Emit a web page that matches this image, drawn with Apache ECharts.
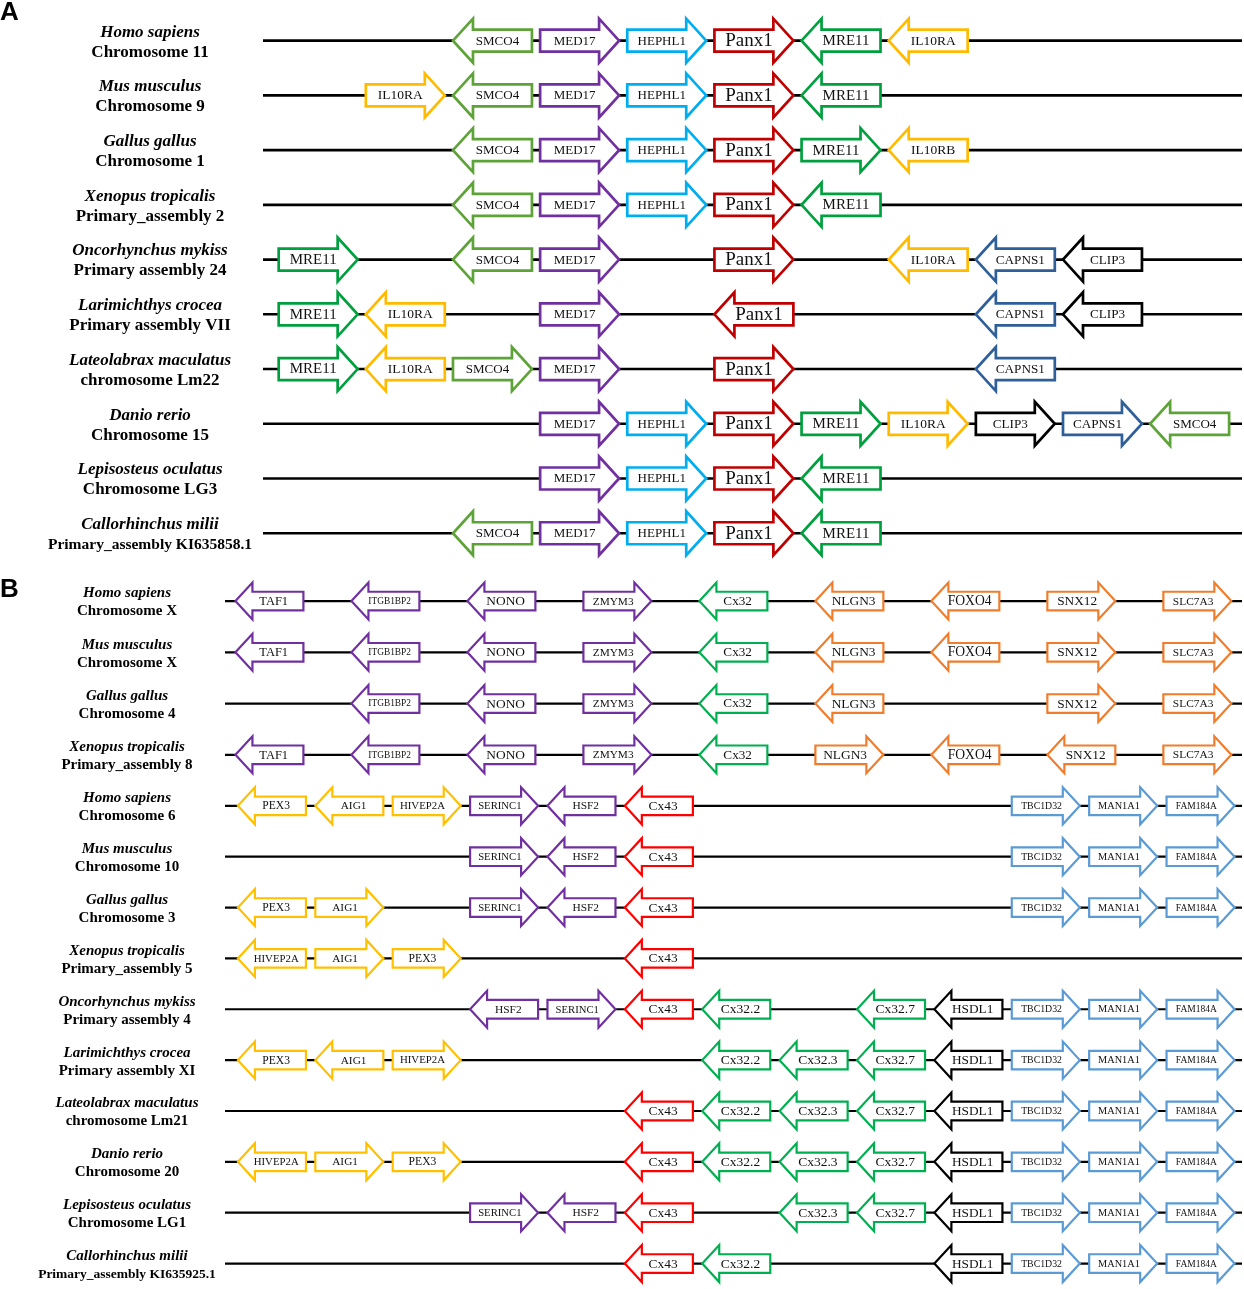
<!DOCTYPE html>
<html>
<head>
<meta charset="utf-8">
<script src="https://cdn.jsdelivr.net/npm/echarts@6/dist/echarts.min.js"></script>
<style>
  html, body { margin: 0; padding: 0; background: #fff; }
  #chart { width: 1244px; height: 1289px; }
</style>
</head>
<body>
<div id="chart"></div>
<script>
// ---- panel A : Panx1 neighbourhood ----
var speciesA = ['Homo sapiens', 'Mus musculus', 'Gallus gallus', 'Xenopus tropicalis', 'Oncorhynchus mykiss',
  'Larimichthys crocea', 'Lateolabrax maculatus', 'Danio rerio', 'Lepisosteus oculatus', 'Callorhinchus milii'];
var chromA = ['Chromosome 11', 'Chromosome 9', 'Chromosome 1', 'Primary_assembly 2', 'Primary assembly 24',
  'Primary assembly VII', 'chromosome Lm22', 'Chromosome 15', 'Chromosome LG3', 'Primary_assembly KI635858.1'];
// [row, slot, gene, strand]
var genesA = [
  [0, 2, 'SMCO4', -1], [0, 3, 'MED17', 1], [0, 4, 'HEPHL1', 1], [0, 5, 'Panx1', 1], [0, 6, 'MRE11', -1], [0, 7, 'IL10RA', -1],
  [1, 1, 'IL10RA', 1], [1, 2, 'SMCO4', -1], [1, 3, 'MED17', 1], [1, 4, 'HEPHL1', 1], [1, 5, 'Panx1', 1], [1, 6, 'MRE11', -1],
  [2, 2, 'SMCO4', -1], [2, 3, 'MED17', 1], [2, 4, 'HEPHL1', 1], [2, 5, 'Panx1', 1], [2, 6, 'MRE11', 1], [2, 7, 'IL10RB', -1],
  [3, 2, 'SMCO4', -1], [3, 3, 'MED17', 1], [3, 4, 'HEPHL1', 1], [3, 5, 'Panx1', 1], [3, 6, 'MRE11', -1],
  [4, 0, 'MRE11', 1], [4, 2, 'SMCO4', -1], [4, 3, 'MED17', 1], [4, 5, 'Panx1', 1], [4, 7, 'IL10RA', -1], [4, 8, 'CAPNS1', -1], [4, 9, 'CLIP3', -1],
  [5, 0, 'MRE11', 1], [5, 1, 'IL10RA', -1], [5, 3, 'MED17', 1], [5, 5, 'Panx1', -1], [5, 8, 'CAPNS1', -1], [5, 9, 'CLIP3', -1],
  [6, 0, 'MRE11', 1], [6, 1, 'IL10RA', -1], [6, 2, 'SMCO4', 1], [6, 3, 'MED17', 1], [6, 5, 'Panx1', 1], [6, 8, 'CAPNS1', -1],
  [7, 3, 'MED17', 1], [7, 4, 'HEPHL1', 1], [7, 5, 'Panx1', 1], [7, 6, 'MRE11', 1], [7, 7, 'IL10RA', 1], [7, 8, 'CLIP3', 1], [7, 9, 'CAPNS1', 1], [7, 10, 'SMCO4', -1],
  [8, 3, 'MED17', 1], [8, 4, 'HEPHL1', 1], [8, 5, 'Panx1', 1], [8, 6, 'MRE11', -1],
  [9, 2, 'SMCO4', -1], [9, 3, 'MED17', 1], [9, 4, 'HEPHL1', 1], [9, 5, 'Panx1', 1], [9, 6, 'MRE11', -1]
];

// ---- panel B, upper block : Cx32 neighbourhood ----
var speciesB1 = ['Homo sapiens', 'Mus musculus', 'Gallus gallus', 'Xenopus tropicalis'];
var chromB1 = ['Chromosome X', 'Chromosome X', 'Chromosome 4', 'Primary_assembly 8'];
var genesB1 = [
  [0, 0, 'TAF1', -1], [0, 1, 'ITGB1BP2', -1], [0, 2, 'NONO', -1], [0, 3, 'ZMYM3', 1], [0, 4, 'Cx32', -1], [0, 5, 'NLGN3', -1], [0, 6, 'FOXO4', -1], [0, 7, 'SNX12', 1], [0, 8, 'SLC7A3', 1],
  [1, 0, 'TAF1', -1], [1, 1, 'ITGB1BP2', -1], [1, 2, 'NONO', -1], [1, 3, 'ZMYM3', 1], [1, 4, 'Cx32', -1], [1, 5, 'NLGN3', -1], [1, 6, 'FOXO4', -1], [1, 7, 'SNX12', 1], [1, 8, 'SLC7A3', 1],
  [2, 1, 'ITGB1BP2', -1], [2, 2, 'NONO', -1], [2, 3, 'ZMYM3', 1], [2, 4, 'Cx32', -1], [2, 5, 'NLGN3', -1], [2, 7, 'SNX12', 1], [2, 8, 'SLC7A3', 1],
  [3, 0, 'TAF1', -1], [3, 1, 'ITGB1BP2', -1], [3, 2, 'NONO', -1], [3, 3, 'ZMYM3', 1], [3, 4, 'Cx32', -1], [3, 5, 'NLGN3', 1], [3, 6, 'FOXO4', -1], [3, 7, 'SNX12', -1], [3, 8, 'SLC7A3', 1]
];

// ---- panel B, lower block : Cx43 neighbourhood ----
var speciesB2 = ['Homo sapiens', 'Mus musculus', 'Gallus gallus', 'Xenopus tropicalis', 'Oncorhynchus mykiss',
  'Larimichthys crocea', 'Lateolabrax maculatus', 'Danio rerio', 'Lepisosteus oculatus', 'Callorhinchus milii'];
var chromB2 = ['Chromosome 6', 'Chromosome 10', 'Chromosome 3', 'Primary_assembly 5', 'Primary assembly 4',
  'Primary assembly XI', 'chromosome Lm21', 'Chromosome 20', 'Chromosome LG1', 'Primary_assembly KI635925.1'];
var genesB2 = [
  [0, 0, 'PEX3', -1], [0, 1, 'AIG1', -1], [0, 2, 'HIVEP2A', 1], [0, 3, 'SERINC1', 1], [0, 4, 'HSF2', -1], [0, 5, 'Cx43', -1], [0, 10, 'TBC1D32', 1], [0, 11, 'MAN1A1', 1], [0, 12, 'FAM184A', 1],
  [1, 3, 'SERINC1', 1], [1, 4, 'HSF2', -1], [1, 5, 'Cx43', -1], [1, 10, 'TBC1D32', 1], [1, 11, 'MAN1A1', 1], [1, 12, 'FAM184A', 1],
  [2, 0, 'PEX3', -1], [2, 1, 'AIG1', 1], [2, 3, 'SERINC1', 1], [2, 4, 'HSF2', -1], [2, 5, 'Cx43', -1], [2, 10, 'TBC1D32', 1], [2, 11, 'MAN1A1', 1], [2, 12, 'FAM184A', 1],
  [3, 0, 'HIVEP2A', -1], [3, 1, 'AIG1', 1], [3, 2, 'PEX3', 1], [3, 5, 'Cx43', -1],
  [4, 3, 'HSF2', -1], [4, 4, 'SERINC1', 1], [4, 5, 'Cx43', -1], [4, 6, 'Cx32.2', -1], [4, 8, 'Cx32.7', -1], [4, 9, 'HSDL1', -1], [4, 10, 'TBC1D32', 1], [4, 11, 'MAN1A1', 1], [4, 12, 'FAM184A', 1],
  [5, 0, 'PEX3', -1], [5, 1, 'AIG1', -1], [5, 2, 'HIVEP2A', 1], [5, 6, 'Cx32.2', -1], [5, 7, 'Cx32.3', -1], [5, 8, 'Cx32.7', -1], [5, 9, 'HSDL1', -1], [5, 10, 'TBC1D32', 1], [5, 11, 'MAN1A1', 1], [5, 12, 'FAM184A', 1],
  [6, 5, 'Cx43', -1], [6, 6, 'Cx32.2', -1], [6, 7, 'Cx32.3', -1], [6, 8, 'Cx32.7', -1], [6, 9, 'HSDL1', -1], [6, 10, 'TBC1D32', 1], [6, 11, 'MAN1A1', 1], [6, 12, 'FAM184A', 1],
  [7, 0, 'HIVEP2A', -1], [7, 1, 'AIG1', 1], [7, 2, 'PEX3', 1], [7, 5, 'Cx43', -1], [7, 6, 'Cx32.2', -1], [7, 7, 'Cx32.3', -1], [7, 8, 'Cx32.7', -1], [7, 9, 'HSDL1', -1], [7, 10, 'TBC1D32', 1], [7, 11, 'MAN1A1', 1], [7, 12, 'FAM184A', 1],
  [8, 3, 'SERINC1', 1], [8, 4, 'HSF2', -1], [8, 5, 'Cx43', -1], [8, 7, 'Cx32.3', -1], [8, 8, 'Cx32.7', -1], [8, 9, 'HSDL1', -1], [8, 10, 'TBC1D32', 1], [8, 11, 'MAN1A1', 1], [8, 12, 'FAM184A', 1],
  [9, 5, 'Cx43', -1], [9, 6, 'Cx32.2', -1], [9, 9, 'HSDL1', -1], [9, 10, 'TBC1D32', 1], [9, 11, 'MAN1A1', 1], [9, 12, 'FAM184A', 1]
];

// ---- styles ----
var geneColor = {
  SMCO4: '#5ea338', MED17: '#7030a0', HEPHL1: '#00aeef', Panx1: '#c00000', MRE11: '#00a03e',
  IL10RA: '#ffbb00', IL10RB: '#ffbb00', CAPNS1: '#2e5f99', CLIP3: '#000000',
  TAF1: '#7030a0', ITGB1BP2: '#7030a0', NONO: '#7030a0', ZMYM3: '#7030a0', SERINC1: '#7030a0', HSF2: '#7030a0',
  Cx32: '#00b050', 'Cx32.2': '#00b050', 'Cx32.3': '#00b050', 'Cx32.7': '#00b050',
  NLGN3: '#f07d2c', FOXO4: '#f07d2c', SNX12: '#f07d2c', SLC7A3: '#f07d2c',
  PEX3: '#ffc000', AIG1: '#ffc000', HIVEP2A: '#ffc000', Cx43: '#ff0000', HSDL1: '#000000',
  TBC1D32: '#5b9bd5', MAN1A1: '#5b9bd5', FAM184A: '#5b9bd5'
};
var geneFont = {
  SMCO4: 13, MED17: 13, HEPHL1: 13, Panx1: 19, MRE11: 15, IL10RA: 13.5, IL10RB: 13.5, CAPNS1: 13.2, CLIP3: 13.2,
  TAF1: 12.5, ITGB1BP2: 9.4, NONO: 13.4, ZMYM3: 11.3, Cx32: 13.2, NLGN3: 13.4, FOXO4: 13.6, SNX12: 13.3, SLC7A3: 11.4,
  PEX3: 11.6, AIG1: 11.3, HIVEP2A: 10.8, SERINC1: 10.7, HSF2: 11.4, Cx43: 13.4, 'Cx32.2': 13.5, 'Cx32.3': 13.5,
  'Cx32.7': 13.5, HSDL1: 13.3, TBC1D32: 9.8, MAN1A1: 10.3, FAM184A: 9.5
};
var SERIF = '"Liberation Serif", "Times New Roman", serif';

// arrow drawing: slot -> pixel through the grid's own x axis
function arrowRender(list, span, bh, hh, hl, lw) {
  return function (params, api) {
    var g = list[params.dataIndex];
    var a = api.coord([g[1], g[0]]);
    var b = api.coord([g[1] + span, g[0]]);
    var x0 = a[0], x1 = b[0], y = a[1], dir = g[3];
    var pts;
    if (dir > 0) {
      pts = [[x0, y - bh], [x1 - hl, y - bh], [x1 - hl, y - hh], [x1, y], [x1 - hl, y + hh], [x1 - hl, y + bh], [x0, y + bh]];
    } else {
      pts = [[x1, y - bh], [x0 + hl, y - bh], [x0 + hl, y - hh], [x0, y], [x0 + hl, y + hh], [x0 + hl, y + bh], [x1, y + bh]];
    }
    return {
      type: 'group',
      children: [{
        type: 'polygon',
        shape: { points: pts },
        style: { fill: '#fff', stroke: geneColor[g[2]], lineWidth: lw, lineJoin: 'miter' }
      }, {
        type: 'text',
        x: (x0 + x1) / 2 - dir * hl * 0.25,
        y: y + 0.5,
        style: {
          text: g[2], fill: '#111', fontFamily: SERIF, fontSize: geneFont[g[2]],
          align: 'center', verticalAlign: 'middle'
        }
      }]
    };
  };
}

function backboneRender(lw) {
  return function (params, api) {
    var cs = params.coordSys;
    var y = api.coord([0, api.value(1)])[1];
    return {
      type: 'line',
      shape: { x1: cs.x, y1: y, x2: cs.x + cs.width, y2: y },
      style: { stroke: '#000', lineWidth: lw }
    };
  };
}

// species / assembly labels on the category axis; long KI assembly names set a bit smaller
function labelAxis(idx, species, chrom, margin, fs, lh, smallFs) {
  return {
    type: 'category', gridIndex: idx, inverse: true, data: species,
    axisLine: { show: false }, axisTick: { show: false }, splitLine: { show: false },
    axisLabel: {
      margin: margin, align: 'center', interval: 0, padding: [3, 0, 0, 0],
      formatter: function (v, i) {
        var key = chrom[i].indexOf('KI') >= 0 ? 'k' : 'c';
        return '{s|' + v + '}\n{' + key + '|' + chrom[i] + '}';
      },
      rich: {
        s: { fontFamily: SERIF, fontStyle: 'italic', fontWeight: 'bold', fontSize: fs, lineHeight: lh, color: '#000' },
        c: { fontFamily: SERIF, fontWeight: 'bold', fontSize: fs, lineHeight: lh, color: '#000' },
        k: { fontFamily: SERIF, fontWeight: 'bold', fontSize: smallFs, lineHeight: lh, color: '#000' }
      }
    }
  };
}

function rowsOf(list) {
  return list.map(function (s, i) { return [0, i]; });
}
function geneData(list) {
  return list.map(function (g) { return [g[1], g[0]]; });
}

var chart = echarts.init(document.getElementById('chart'), null, { renderer: 'canvas' });

var option = {
  backgroundColor: '#fff',
  animation: false,
  grid: [
    { left: 263, width: 979, top: 13.3, height: 547.3 },
    { left: 225, width: 1017, top: 575.4, height: 205 },
    { left: 225, width: 1017, top: 780.4, height: 512.5 }
  ],
  xAxis: [
    { type: 'value', gridIndex: 0, min: -0.18, max: 11.054, show: false },
    { type: 'value', gridIndex: 1, min: -0.09, max: 8.678, show: false },
    { type: 'value', gridIndex: 2, min: -0.167, max: 12.975, show: false }
  ],
  yAxis: [
    labelAxis(0, speciesA, chromA, 113, 17, 20, 15.5),
    labelAxis(1, speciesB1, chromB1, 98, 15, 18, 13.5),
    labelAxis(2, speciesB2, chromB2, 98, 15, 18, 13.5)
  ],
  graphic: [
    { type: 'text', left: 0, top: 0, style: { text: 'A', font: 'bold 26px "Liberation Sans", Arial, sans-serif', fill: '#000' } },
    { type: 'text', left: 0, top: 577, style: { text: 'B', font: 'bold 26px "Liberation Sans", Arial, sans-serif', fill: '#000' } }
  ],
  series: [
    { type: 'custom', xAxisIndex: 0, yAxisIndex: 0, data: rowsOf(speciesA), renderItem: backboneRender(2.6), silent: true },
    { type: 'custom', xAxisIndex: 1, yAxisIndex: 1, data: rowsOf(speciesB1), renderItem: backboneRender(2.2), silent: true },
    { type: 'custom', xAxisIndex: 2, yAxisIndex: 2, data: rowsOf(speciesB2), renderItem: backboneRender(2.2), silent: true },
    { type: 'custom', xAxisIndex: 0, yAxisIndex: 0, data: geneData(genesA),
      renderItem: arrowRender(genesA, 0.906, 11, 22, 20, 2.7), silent: true },
    { type: 'custom', xAxisIndex: 1, yAxisIndex: 1, data: geneData(genesB1),
      renderItem: arrowRender(genesB1, 0.586, 9.3, 18.5, 17, 2.2), silent: true },
    { type: 'custom', xAxisIndex: 2, yAxisIndex: 2, data: geneData(genesB2),
      renderItem: arrowRender(genesB2, 0.879, 9.3, 18.5, 17, 2.2), silent: true }
  ]
};

chart.setOption(option);
</script>
</body>
</html>
